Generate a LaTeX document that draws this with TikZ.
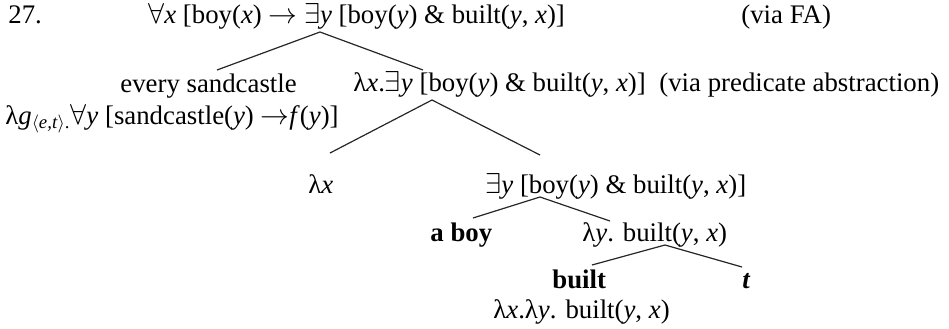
\documentclass[tikz,border=0pt]{standalone}
\usepackage{fontspec}
\setmainfont{Liberation Serif}
\newcommand{\lv}[1]{\textit{#1}}
\newcommand{\allq}{$\forall$}
\newcommand{\exq}{$\exists$}
\newcommand{\impl}{$\rightarrow$}
\tikzset{%
  semlabel/.style={%
    anchor=base west,
    inner sep=0pt,
    font=\fontsize{13.4}{16}\selectfont
  },
  semword/.style={%
    semlabel,
    font=\fontsize{13.4}{16}\selectfont\bfseries
  },
  branch/.style={draw=black!85,line width=0.6pt}
}
\begin{document}
\begin{tikzpicture}[x=0.5pt,y=-0.5pt]
    \useasboundingbox (0,0) rectangle (949,328);
    \node[semlabel] (num) at (8,23) {27.};
    \node[semlabel] (root) at (148,23) {\allq\lv{x} [boy(\lv{x}) \impl\ \exq\lv{y} [boy(\lv{y}) \& built(\lv{y}, \lv{x})]};
    \node[semlabel] (viafa) at (741,23) {(via FA)};
    \node[semlabel] (every) at (120,92) {every sandcastle};
    \node[semlabel] (everysem) at (5,124) {λ\lv{g}\textsubscript{$\langle$\lv{e,t}$\rangle$.}\allq\lv{y} [sandcastle(\lv{y}) \impl\lv{f}(\lv{y})]};
    \node[semlabel] (abstr) at (353,91) {λ\lv{x}.\exq\lv{y} [boy(\lv{y}) \& built(\lv{y}, \lv{x})]};
    \node[semlabel] (viapa) at (659,91) {(via predicate abstraction)};
    \node[semlabel] (lamx) at (308,193) {λ\lv{x}};
    \node[semlabel] (exists) at (485,193) {\exq\lv{y} [boy(\lv{y}) \& built(\lv{y}, \lv{x})]};
    \node[semword] (aboy) at (430,241) {a boy};
    \node[semlabel] (lamy) at (582,241) {λ\lv{y}. built(\lv{y}, \lv{x})};
    \node[semword] (built) at (552,288) {built};
    \node[semword] (trace) at (742,288) {\itshape t};
    \node[semlabel] (builtsem) at (493,318) {λ\lv{x}.λ\lv{y}. built(\lv{y}, \lv{x})};

    % branch points
    \coordinate (rootfoot) at (320,32);
    \coordinate (everytop) at (217,70);
    \coordinate (abstrtop) at (423,70);
    \coordinate (abstrfoot) at (432,100);
    \coordinate (lamxtop) at (330,153);
    \coordinate (existstop) at (540,155);
    \coordinate (existsfoot) at (540,197);
    \coordinate (aboytop) at (473,218);
    \coordinate (lamytop) at (610,221);
    \coordinate (lamyfoot) at (665,245);
    \coordinate (builttop) at (592,265);
    \coordinate (tracetop) at (742,267);

    \draw[branch] (everytop) -- (rootfoot) -- (abstrtop);
    \draw[branch] (lamxtop) -- (abstrfoot) -- (existstop);
    \draw[branch] (aboytop) -- (existsfoot) -- (lamytop);
    \draw[branch] (builttop) -- (lamyfoot) -- (tracetop);
\end{tikzpicture}
\end{document}
